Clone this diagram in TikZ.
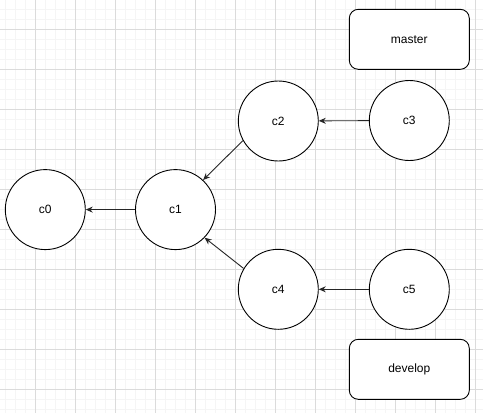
\documentclass[tikz,border=0pt]{standalone}
\usepackage{fontspec}
\setmainfont{Liberation Sans}
\usetikzlibrary{
    arrows.meta,
    positioning,
}

\begin{document}
\begin{tikzpicture}[
        x=1pt, y=-1pt,
        >={Stealth[length=7pt,width=6pt]},
        commit/.style={
            circle, draw=black, line width=0.9pt, fill=white,
            minimum size=80pt, inner sep=0pt,
            font=\fontsize{12}{14}\selectfont
        },
        branch/.style={
            rectangle, rounded corners=9pt, draw=black, line width=0.9pt,
            fill=white, minimum width=120pt, minimum height=60pt,
            font=\fontsize{12}{14}\selectfont
        },
        arrow/.style={->, line width=0.9pt, black!85},
        minorgrid/.style={draw=black!4, line width=0.8pt},
        majorgrid/.style={draw=black!14, line width=0.8pt},
    ]

    % ── Background grid ──
    \useasboundingbox (0,0) rectangle (483,413);
    \fill[white] (0,0) rectangle (483,413);
    \foreach \x in {5,15,...,475} \draw[minorgrid] (\x,0) -- (\x,413);
    \foreach \y in {9,19,...,409} \draw[minorgrid] (0,\y) -- (483,\y);
    \foreach \x in {35,75,...,475} \draw[majorgrid] (\x,0) -- (\x,413);
    \foreach \y in {29,69,...,409} \draw[majorgrid] (0,\y) -- (483,\y);

    % ── Commits ──
    \node[commit] (c0) at (45.3,209.6) {c0};
    \node[commit] (c1) at (175.5,209.6) {c1};
    \node[commit] (c2) at (278.3,121) {c2};
    \node[commit] (c3) at (409.3,120.5) {c3};
    \node[commit] (c4) at (278.3,289.3) {c4};
    \node[commit] (c5) at (409.3,289.3) {c5};

    % ── Branch labels ──
    \node[branch] (master) at (409.3,39.3) {master};
    \node[branch] (develop) at (409.3,369.3) {develop};

    % ── Arrows ──
    \draw[arrow] (c1) -- (c0);
    \draw[arrow] (c2.209) -- (c1.47);
    \draw[arrow] (c4.149) -- (c1.-44);
    \draw[arrow] (c3) -- (c2);
    \draw[arrow] (c5) -- (c4);

\end{tikzpicture}
\end{document}
